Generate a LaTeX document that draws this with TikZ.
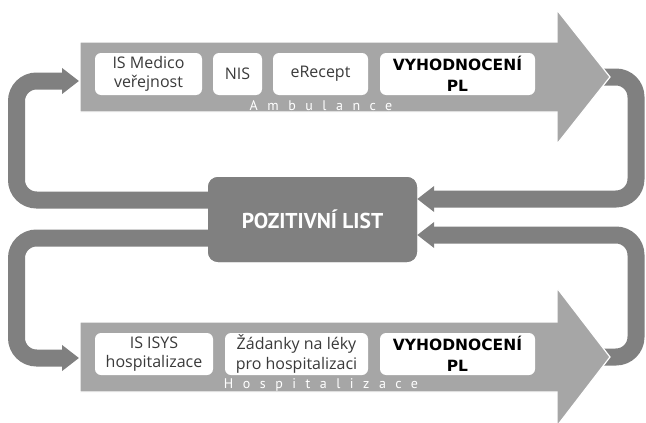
\documentclass[tikz,border=0pt]{standalone}
\usepackage{fontspec}
\setmainfont{Open Sans}
\newfontfamily\vyhfont{DejaVu Sans}
\newfontfamily\plfont{PT Sans}
\newfontfamily\spacedfont[LetterSpace=68]{PT Sans}
\usetikzlibrary{arrows.meta}
\definecolor{lightg}{HTML}{A6A6A6}
\definecolor{darkg}{HTML}{808080}
\definecolor{txtg}{HTML}{3A3A3A}
\begin{document}
\begin{tikzpicture}[x=1pt,y=-1pt,
  bigarrow/.style={fill=lightg,draw=white,line width=1.2pt,line join=miter},
  conn/.style={draw=darkg,line width=17pt,rounded corners=20pt,
    -{Triangle[length=17pt,width=25pt]}},
  tbox/.style={fill=white,rounded corners=6pt,inner sep=0pt,align=center,
    text=txtg,font=\fontsize{16}{19.5}\selectfont},
  vbox/.style={tbox,text=black,font=\vyhfont\bfseries\fontsize{15.5}{21}\selectfont},
  plbox/.style={fill=darkg,rounded corners=10pt,minimum width=209pt,minimum height=85pt,
    text=white,font=\plfont\bfseries\fontsize{21.5}{24}\selectfont},
  spaced/.style={text=white,inner sep=0pt,font=\spacedfont\fontsize{14}{15}\selectfont}]
\useasboundingbox (0,0) rectangle (646,423);
% tips and entries of the big arrows
\coordinate (ambtip) at (610,77);
\coordinate (ambin) at (79,81);
\coordinate (hosptip) at (610,357);
\coordinate (hospin) at (79,358);
% central box
\node[plbox] (PL) at (312.5,219.5) {POZITIVNÍ LIST};
% connectors
\draw[conn] ([yshift=19.5pt]PL.west) -| ([xshift=-62.5pt]ambin) -- (ambin);
\draw[conn] ([yshift=-18.5pt]PL.west) -| ([xshift=-62.5pt]hospin) -- (hospin);
\draw[conn] ([xshift=-15pt]ambtip) -- ++(41,0) |- ([yshift=20.5pt]PL.east);
\draw[conn] ([xshift=-15pt]hosptip) -- ++(41,0) |- ([yshift=-15.5pt]PL.east);
\node[plbox] at (PL) {POZITIVNÍ LIST};
% big arrows
\draw[bigarrow] (80,42) -- (557,42) -- (557,10) -- (ambtip) -- (557,144) -- (557,112) -- (80,112) -- cycle;
\draw[bigarrow] (80,322) -- (557,322) -- (557,288) -- (hosptip) -- (557,426) -- (557,392) -- (80,392) -- cycle;
% top boxes
\node[tbox,minimum width=107pt,minimum height=42pt] (medico) at (148.5,74) {IS Medico\\veřejnost};
\node[tbox,minimum width=49pt,minimum height=42pt] (nis) at (237.5,74) {NIS};
\node[tbox,minimum width=95pt,minimum height=42pt] (erecept) at (320.5,74) {eRecept};
\node[vbox,minimum width=155pt,minimum height=42pt] (vyh1) at (457.5,74) {VYHODNOCENÍ\\PL};
\node[spaced] (amb) at (321,106) {Ambulance};
% bottom boxes
\node[tbox,minimum width=118pt,minimum height=42pt] (isys) at (154,354) {IS ISYS\\hospitalizace};
\node[tbox,minimum width=143pt,minimum height=42pt] (zad) at (296.5,354) {Žádanky na léky\\pro hospitalizaci};
\node[vbox,minimum width=155pt,minimum height=42pt] (vyh2) at (457.5,354) {VYHODNOCENÍ\\PL};
\node[spaced] (hosp) at (321,385) {Hospitalizace};
\end{tikzpicture}
\end{document}
